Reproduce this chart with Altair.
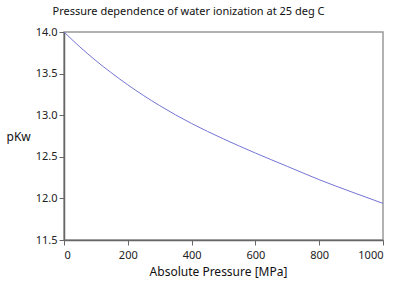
import altair as alt
import pandas as pd

pressure = [0, 50, 100, 150, 200, 250, 300, 400, 500, 600, 700, 800, 900, 1000]
pkw = [14.0, 13.82, 13.655, 13.505, 13.365, 13.235, 13.115, 12.9, 12.715, 12.545, 12.385, 12.225, 12.08, 11.94]
x_ticks = [0, 200, 400, 600, 800, 1000]
y_ticks = [11.5, 12.0, 12.5, 13.0, 13.5, 14.0]

df = pd.DataFrame({"p": pressure, "pkw": pkw})

FONT = "Noto Sans"

chart = alt.Chart(df).mark_line(
    color="#7474d4", strokeWidth=1, interpolate="monotone"
).encode(
    x=alt.X("p:Q",
            scale=alt.Scale(domain=[0, 1000], nice=False),
            axis=alt.Axis(title="Absolute Pressure [MPa]", values=x_ticks, grid=False,
                          format="d", titleX=154, labelPadding=4, titlePadding=6)),
    y=alt.Y("pkw:Q",
            scale=alt.Scale(domain=[11.5, 14.0], nice=False, zero=False),
            axis=alt.Axis(title="pKw", values=y_ticks, grid=False, format=".1f",
                          labelPadding=2,
                          titleAngle=0, titleAlign="left", titleBaseline="middle",
                          titleX=-58, titleY=104)),
).properties(
    width=319,
    height=208,
    title=alt.TitleParams("Pressure dependence of water ionization at 25 deg C",
                          fontSize=11, font=FONT, fontWeight="normal", color="#111",
                          anchor="middle", dx=-35, offset=9),
    padding={"left": 6, "top": 6, "right": 5, "bottom": 2},
).configure_axis(
    labelFont=FONT, labelFontSize=11, labelColor="#222",
    titleFont=FONT, titleFontSize=12, titleFontWeight="normal", titleColor="#111",
    domainColor="#666", domainWidth=1.5, tickColor="#666", tickSize=5,
).configure_view(
    stroke="#999", strokeWidth=1.5
)

chart.save("out.html", embed_options={"renderer": "svg", "actions": False})
